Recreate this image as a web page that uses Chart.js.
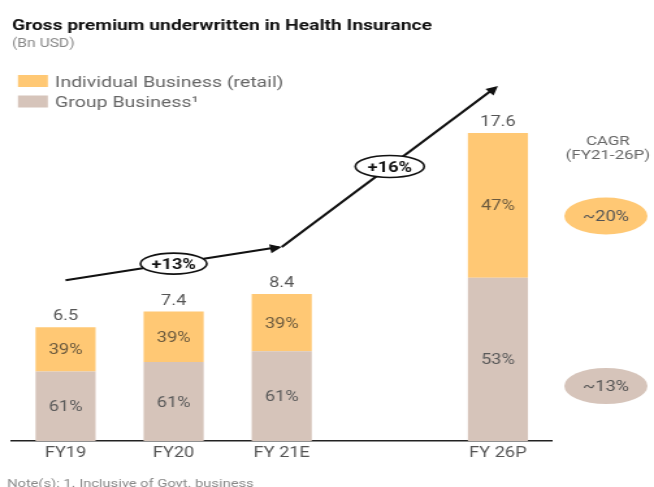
<!DOCTYPE html>
<html>
<head>
<meta charset="utf-8">
<script src="https://cdn.jsdelivr.net/npm/chart.js@4/dist/chart.umd.min.js"></script>
<style>
  html, body { margin: 0; padding: 0; background: #fff; overflow: hidden; }
  #wrap { width: 503px; height: 487px; transform: scaleX(1.3002); transform-origin: 0 0; }
</style>
</head>
<body>
<div id="wrap"><canvas id="gpwChart"></canvas></div>
<script>
// Gross premium underwritten in Health Insurance (Bn USD)
const categories = ['FY19', 'FY20', 'FY 21E', '', 'FY 26P'];
const totals = [6.5, 7.4, 8.4, null, 17.6];
const individualShare = [39, 39, 39, null, 47];
const groupShare = [61, 61, 61, null, 53];
const growthLabels = ['+13%', '+16%'];
const cagrLabels = ['~20%', '~13%'];

const groupValues = totals.map((t, i) => t == null ? null : t * groupShare[i] / 100);
const individualValues = totals.map((t, i) => t == null ? null : t * individualShare[i] / 100);

const ORANGE = '#FFC874';
const TAUPE = '#D6C4BA';
const FONT = 'Roboto, "Liberation Sans", sans-serif';

function txt(ctx, s, x, y, size, color, align, weight) {
    ctx.font = (weight || 'normal') + ' ' + size + 'px ' + FONT;
    ctx.fillStyle = color;
    ctx.textAlign = align || 'left';
    ctx.textBaseline = 'alphabetic';
    ctx.fillText(s, x, y);
}

function arrowHead(ctx, x0, y0, x1, y1) {
    const a = Math.atan2(y1 - y0, x1 - x0);
    const len = 9, w = 4.5;
    ctx.beginPath();
    ctx.moveTo(x1, y1);
    ctx.lineTo(x1 - len * Math.cos(a) + w * Math.sin(a), y1 - len * Math.sin(a) - w * Math.cos(a));
    ctx.lineTo(x1 - len * Math.cos(a) - w * Math.sin(a), y1 - len * Math.sin(a) + w * Math.cos(a));
    ctx.closePath();
    ctx.fill();
}

function ellipse(ctx, cx, cy, rx, ry, fill, stroke) {
    ctx.beginPath();
    ctx.ellipse(cx, cy, rx, ry, 0, 0, Math.PI * 2);
    ctx.fillStyle = fill;
    ctx.fill();
    if (stroke) {
        ctx.strokeStyle = stroke;
        ctx.lineWidth = 1.6;
        ctx.stroke();
    }
}

const extras = {
    id: 'extras',
    afterDatasetsDraw(chart) {
        const ctx = chart.ctx;
        const grp = chart.getDatasetMeta(0).data;
        const ind = chart.getDatasetMeta(1).data;
        ctx.save();

        // values and shares
        totals.forEach((t, i) => {
            if (t == null) return;
            const top = ind[i], bot = grp[i];
            txt(ctx, t.toFixed(1), top.x, top.y - 7, 14, '#555', 'center');
            txt(ctx, individualShare[i] + '%', top.x, (top.y + top.base) / 2 + 5, 14, '#6b5a3e', 'center');
            txt(ctx, groupShare[i] + '%', bot.x, (bot.y + bot.base) / 2 + 5, 14, '#5a5a5a', 'center');
        });

        // growth arrow
        const pts = [0, 2, 4].map(i => ({ x: ind[i].x, y: ind[i].y - 47 }));
        ctx.strokeStyle = '#111';
        ctx.fillStyle = '#111';
        ctx.lineWidth = 2.2;
        ctx.beginPath();
        ctx.moveTo(pts[0].x, pts[0].y);
        ctx.lineTo(pts[1].x - 2, pts[1].y);
        ctx.moveTo(pts[1].x, pts[1].y);
        ctx.lineTo(pts[2].x - 3, pts[2].y + 2.5);
        ctx.stroke();
        arrowHead(ctx, pts[0].x, pts[0].y, pts[1].x, pts[1].y);
        arrowHead(ctx, pts[1].x, pts[1].y, pts[2].x, pts[2].y);

        const cx1 = grp[1].x;
        const cy1 = pts[0].y + (pts[1].y - pts[0].y) * (cx1 - pts[0].x) / (pts[1].x - pts[0].x);
        const cx2 = (pts[1].x + pts[2].x) / 2, cy2 = (pts[1].y + pts[2].y) / 2;
        ellipse(ctx, cx1, cy1, 25.5, 10.5, '#fff', '#111');
        ellipse(ctx, cx2, cy2, 26.5, 11, '#fff', '#111');
        txt(ctx, growthLabels[0], cx1, cy1 + 5, 14, '#111', 'center', 'bold');
        txt(ctx, growthLabels[1], cx2, cy2 + 5, 14, '#111', 'center', 'bold');

        ctx.restore();
    },
    afterDraw(chart) {
        const ctx = chart.ctx;
        ctx.save();
        // title block
        txt(ctx, 'Gross premium underwritten in Health Insurance', 9.2, 30, 14.8, '#111', 'left', 'bold');
        txt(ctx, '(Bn USD)', 9.2, 47, 12, '#888');

        // legend
        ctx.fillStyle = ORANGE;
        ctx.fillRect(13.8, 75, 23, 12);
        ctx.fillStyle = TAUPE;
        ctx.fillRect(13.8, 95.5, 23, 12);
        txt(ctx, 'Individual Business (retail)', 42.3, 86.5, 15, '#666');
        txt(ctx, 'Group Business\u00B9', 42.3, 107, 15, '#666');

        // CAGR side notes
        txt(ctx, 'CAGR', 467.5, 145, 13, '#666', 'center');
        txt(ctx, '(FY21-26P)', 467.5, 159, 13, '#666', 'center');
        ellipse(ctx, 466, 216, 32, 18.5, ORANGE);
        ellipse(ctx, 466, 386, 32, 18, TAUPE);
        txt(ctx, cagrLabels[0], 466, 221, 14, '#555', 'center');
        txt(ctx, cagrLabels[1], 466, 391, 14, '#555', 'center');

        // footnote
        txt(ctx, 'Note(s): 1. Inclusive of Govt. business', 5.4, 487, 11.3, '#888');
        ctx.restore();
    }
};

const ctx = document.getElementById('gpwChart').getContext('2d');
new Chart(ctx, {
    type: 'bar',
    data: {
        labels: categories,
        datasets: [
            {
                label: 'Group Business',
                data: groupValues,
                backgroundColor: TAUPE,
                barPercentage: 0.556,
                categoryPercentage: 1
            },
            {
                label: 'Individual Business (retail)',
                data: individualValues,
                backgroundColor: ORANGE,
                barPercentage: 0.556,
                categoryPercentage: 1
            }
        ]
    },
    options: {
        responsive: true,
        maintainAspectRatio: false,
        animation: false,
        layout: {
            padding: { top: 91, left: 8.85, right: 78.5, bottom: 21.2 }
        },
        plugins: {
            legend: { display: false },
            title: { display: false },
            tooltip: { enabled: false }
        },
        scales: {
            x: {
                stacked: true,
                grid: { display: false, drawTicks: false },
                border: { display: true, color: '#222', width: 1.5 },
                ticks: {
                    padding: 4,
                    color: '#555',
                    font: { family: FONT, size: 14 }
                }
            },
            y: {
                stacked: true,
                display: false,
                min: 0,
                max: 20
            }
        }
    },
    plugins: [extras]
});
</script>
</body>
</html>
